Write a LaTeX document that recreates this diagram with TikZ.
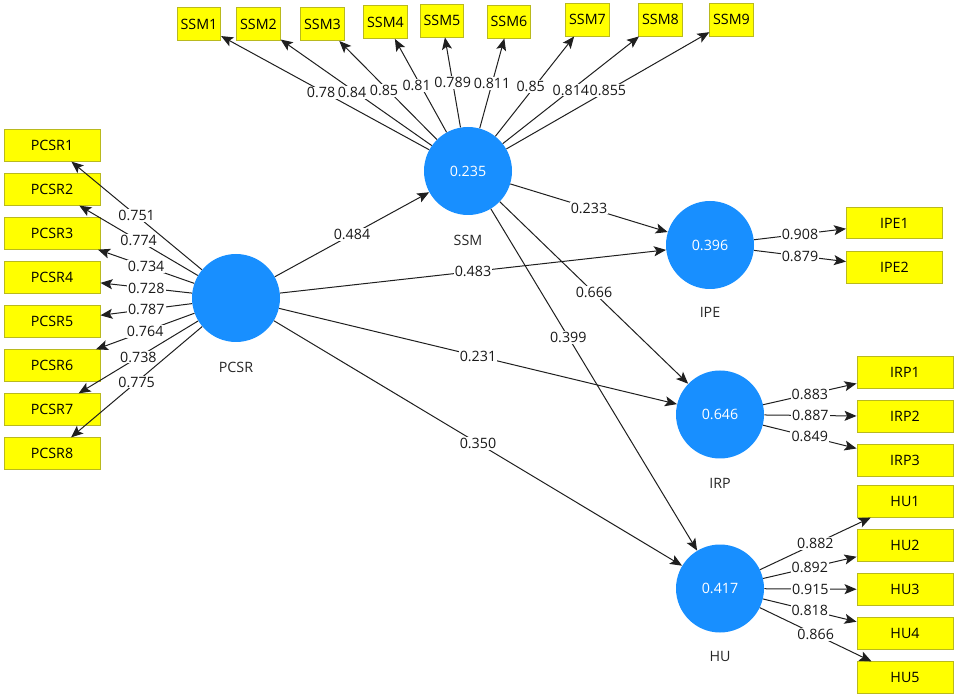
\documentclass[tikz,border=0pt]{standalone}
\usepackage{fontspec}
\setmainfont{Open Sans}
\usetikzlibrary{arrows.meta,calc}
\definecolor{lvblue}{RGB}{24,143,255}
\definecolor{mvyellow}{RGB}{255,255,0}
\definecolor{mvborder}{RGB}{185,185,30}
\begin{document}
\begin{tikzpicture}[x=0.75pt,y=-0.75pt,
  font=\fontsize{10.7}{12}\selectfont,
  lv/.style={circle,fill=lvblue,draw=none,minimum size=66pt,inner sep=0pt,text=white},
  mv/.style={rectangle,fill=mvyellow,draw=mvborder,line width=0.7pt,minimum width=72pt,minimum height=23.5pt,inner sep=0pt},
  smv/.style={mv,minimum width=32.5pt,minimum height=24.75pt},
  lvname/.style={text=black!85},
  conn/.style={draw=black!88,line width=0.75pt,-{Stealth[length=9pt,width=7.5pt,inset=2pt]}},
  wlab/.style={fill=white,inner sep=0.8pt,text=black!90}]

\useasboundingbox (0,0) rectangle (957,698);

% latent variables
\node[lv] (ssm)  at (468,171)   {0.235};
\node[lv] (pcsr) at (236,298)   {};
\node[lv] (ipe)  at (710,245)   {0.396};
\node[lv] (irp)  at (720,414.5) {0.646};
\node[lv] (hu)   at (720,588.5) {0.417};

\node[lvname] (ssmname)  at (468,240) {SSM};
\node[lvname] (pcsrname) at (236,367) {PCSR};
\node[lvname] (ipename)  at (710,312) {IPE};
\node[lvname] (irpname)  at (720,483) {IRP};
\node[lvname] (huname)   at (720,656) {HU};

% SSM indicators
\foreach \i/\x/\y in {1/199/24,2/258.5/24,3/322.5/24,4/385.5/22,5/442/20.5,6/509/21.5,7/587.5/19.5,8/660.5/19.5,9/731.5/19.5}
  \node[smv] (ssm\i) at (\x,\y) {SSM\i};

% PCSR indicators
\foreach \i in {1,...,8}
  \node[mv] (pcsr\i) at (52,{145.5+44*(\i-1)}) {PCSR\i};

% IPE indicators
\node[mv] (ipe1) at (894.5,223)   {IPE1};
\node[mv] (ipe2) at (894.5,267.5) {IPE2};

% IRP indicators
\foreach \i/\y in {1/372.5,2/416.5,3/460.5}
  \node[mv] (irp\i) at (905,\y) {IRP\i};

% HU indicators
\foreach \i/\y in {1/501.5,2/545.5,3/589.5,4/633.5,5/677.5}
  \node[mv] (hu\i) at (905,\y) {HU\i};

% ---- connectors (lines first) ----
\foreach \i in {1,...,9} \draw[conn] (ssm) -- (ssm\i);
\foreach \i in {1,...,8} \draw[conn] (pcsr) -- (pcsr\i);
\foreach \i in {1,2} \draw[conn] (ipe) -- (ipe\i);
\foreach \i in {1,2,3} \draw[conn] (irp) -- (irp\i);
\foreach \i in {1,...,5} \draw[conn] (hu) -- (hu\i);

\draw[conn] (pcsr) -- (ssm);
\draw[conn] (pcsr) -- (ipe);
\draw[conn] (pcsr) -- (irp);
\draw[conn] (pcsr) -- (hu);
\draw[conn] (ssm) -- (ipe);
\draw[conn] (ssm) -- (irp);
\draw[conn] (ssm) -- (hu);

% ---- labels on top ----
\foreach \i/\v in {1/{0.78\phantom{0}},2/{0.84\phantom{0}},3/{0.85\phantom{0}},4/{0.81\phantom{0}},5/{0.789},6/{0.811},7/{0.85\phantom{0}},8/{0.814},9/{0.855}}
  \path (ssm) -- node[wlab] {\v} (ssm\i);
\foreach \i/\v in {1/0.751,2/0.774,3/0.734,4/0.728,5/0.787,6/0.764,7/0.738,8/0.775}
  \path (pcsr) -- node[wlab] {\v} (pcsr\i);
\foreach \i/\v in {1/0.908,2/0.879}
  \path (ipe) -- node[wlab] {\v} (ipe\i);
\foreach \i/\v in {1/0.883,2/0.887,3/0.849}
  \path (irp) -- node[wlab] {\v} (irp\i);
\foreach \i/\v in {1/0.882,2/0.892,3/0.915,4/0.818,5/0.866}
  \path (hu) -- node[wlab] {\v} (hu\i);

\path (pcsr) -- node[wlab] {0.484} (ssm);
\path (pcsr) -- node[wlab] {0.483} (ipe);
\path (pcsr) -- node[wlab] {0.231} (irp);
\path (pcsr) -- node[wlab] {0.350} (hu);
\path (ssm) -- node[wlab] {0.233} (ipe);
\path (ssm) -- node[wlab] {0.666} (irp);
\node[wlab] (l399) at ($(ssm)!0.398!(hu)$) {0.399};
\end{tikzpicture}
\end{document}
